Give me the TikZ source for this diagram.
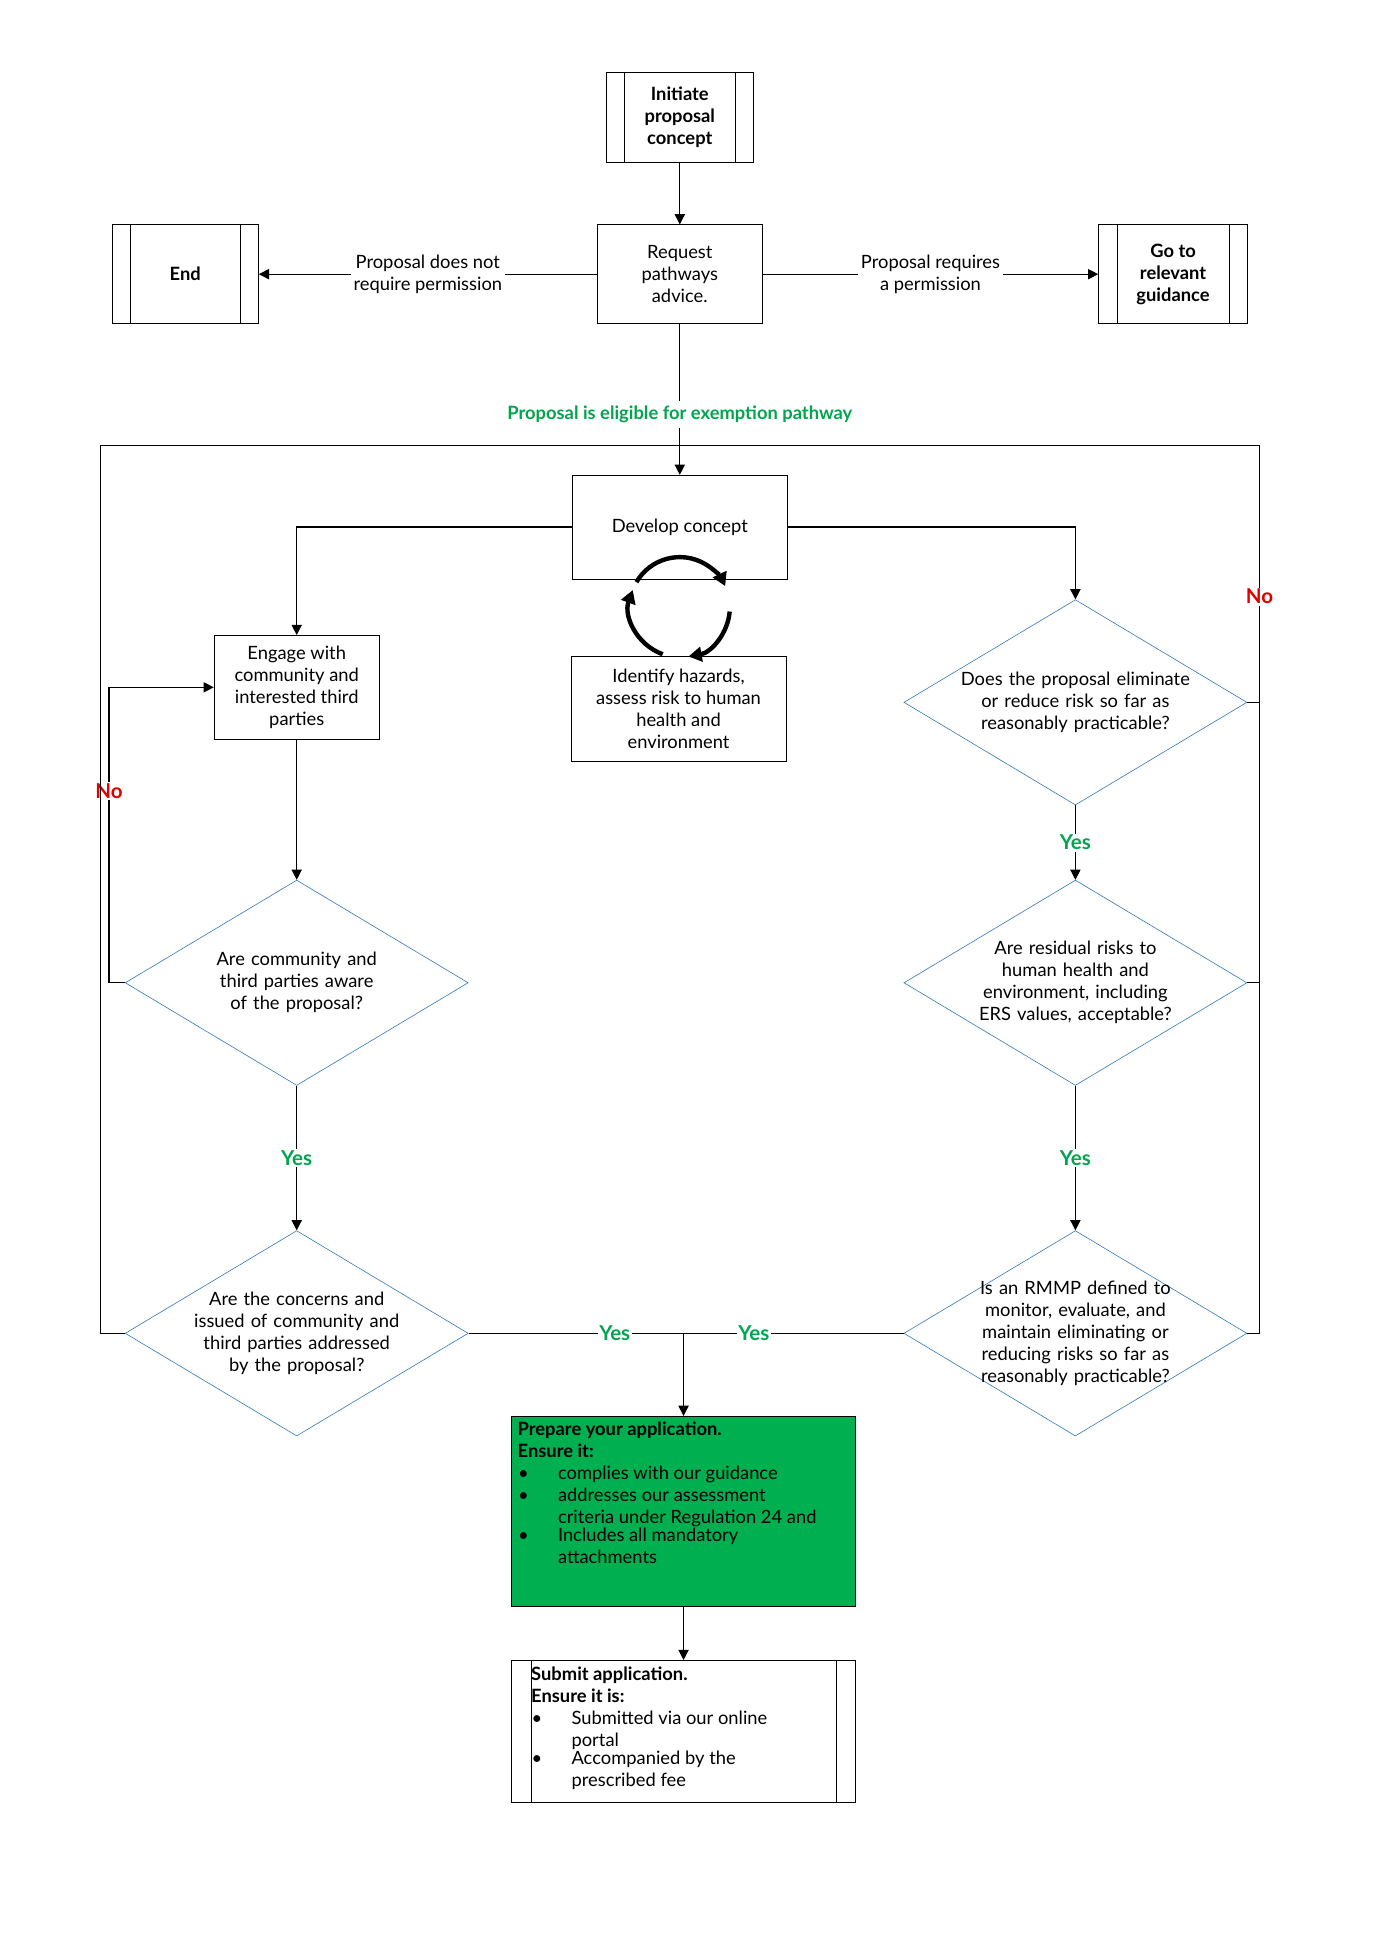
\documentclass[tikz,border=0pt]{standalone}
\usepackage{fontspec}
\setmainfont{Lato}
\usetikzlibrary{shapes.geometric,arrows.meta}
\definecolor{diablue}{HTML}{2E75B6}
\definecolor{okgreen}{HTML}{00A54F}
\definecolor{boxgreen}{HTML}{00B050}
\definecolor{nored}{HTML}{E00000}
\newcommand{\bul}[2]{\par\hangindent=2.2em\hangafter=0\noindent\llap{\textbullet\hspace{1.6em}}\parbox[t]{#1}{\raggedright\hyphenpenalty=10000 #2}\par}
\tikzset{
  box/.style={draw, thin, align=center, inner sep=2pt},
  dia/.style={draw=diablue, diamond, minimum width=8.22cm, minimum height=4.92cm, inner sep=0pt},
  dtext/.style={align=center, text width=5.8cm, execute at begin node={\hyphenpenalty=10000}},
  arr/.style={-{Triangle[length=7pt,width=7pt]}, thick},
  lnk/.style={thick},
  yes/.style={text=okgreen, font=\bfseries\fontsize{14}{16}\selectfont, fill=white, inner sep=1pt},
  no/.style={text=nored, font=\bfseries\fontsize{14}{16}\selectfont, fill=white, inner sep=1pt},
  lbl/.style={fill=white, align=center, inner sep=2pt}
}
\begin{document}
\begin{tikzpicture}[x=0.03cm, y=-0.03cm, font=\fontsize{12.5}{15}\selectfont]
\useasboundingbox (0,0) rectangle (1100,1556);
% top row
\node[box, minimum width=3.54cm, minimum height=2.16cm, font=\bfseries\fontsize{12.5}{15}\selectfont] (init) at (543,94) {Initiate\\proposal\\concept};
\node[box, minimum width=3.96cm, minimum height=2.37cm] (req) at (543,219) {Request\\pathways\\advice.};
\node[box, minimum width=3.51cm, minimum height=2.37cm, font=\bfseries\fontsize{12.5}{15}\selectfont] (end) at (148,219) {End};
\node[box, minimum width=3.57cm, minimum height=2.37cm, font=\bfseries\fontsize{12.5}{15}\selectfont] (go) at (937,219) {Go to\\relevant\\guidance};
\foreach \n in {init,end,go}{
  \draw ([xshift=0.45cm]\n.north west) -- ([xshift=0.45cm]\n.south west);
  \draw ([xshift=-0.45cm]\n.north east) -- ([xshift=-0.45cm]\n.south east);
}
\draw[arr] (init) -- (req);
\draw[arr] (req) -- node[lbl]{Proposal does not\\require permission} (end);
\draw[arr] (req) -- node[lbl]{Proposal requires\\a permission} (go);
% develop loop
\node[box, minimum width=5.16cm, minimum height=2.49cm] (dev) at (543,421) {Develop concept};
\node[box, minimum width=5.16cm, minimum height=2.52cm] (haz) at (542,566) {Identify hazards,\\assess risk to human\\health and\\environment};
\draw[arr] (req) -- node[pos=0.6, text=okgreen, font=\bfseries\fontsize{12.5}{15}\selectfont, fill=white]{Proposal is eligible for exemption pathway} (dev);
\begin{scope}[line width=3pt, -{Triangle[length=9pt,width=10pt]}]
  \draw (543,485) ++(-150:40) arc[start angle=-150, end angle=-25, radius=40];
  \draw (543,485) ++(5:40) arc[start angle=5, end angle=80, radius=40];
  \draw (543,485) ++(110:40) arc[start angle=110, end angle=200, radius=40];
\end{scope}
% left column
\node[box, minimum width=3.96cm, minimum height=2.49cm] (eng) at (237,549) {Engage with\\community and\\interested third\\parties};
\node[dia] (aware) at (237,785) {};
\node[dtext] at (aware) {Are community and third parties aware of the proposal?};
\node[dia] (conc) at (237,1065) {};
\node[dtext] at (conc) {Are the concerns and issued of community and third parties addressed by the proposal?};
\draw[arr] (dev.west) -| (eng.north);
\draw[arr] (eng) -- (aware);
\draw[arr] (aware) -- node[yes, pos=0.5]{Yes} (conc);
\draw[arr] (aware.west) -- (87,785) -- node[no, pos=0.65]{No} (87,549) -- (eng.west);
% right column
\node[dia] (elim) at (859,561) {};
\node[dtext] at (elim) {Does the proposal eliminate or reduce risk so far as reasonably practicable?};
\node[dia] (resid) at (859,785) {};
\node[dtext] at (resid) {Are residual risks to human health and environment, including ERS values, acceptable?};
\node[dia] (rmmp) at (859,1065) {};
\node[dtext] at (rmmp) {Is an RMMP defined to monitor, evaluate, and maintain eliminating or reducing risks so far as reasonably practicable?};
\draw[arr] (dev.east) -| (elim.north);
\draw[arr] (elim) -- node[yes]{Yes} (resid);
\draw[arr] (resid) -- node[yes]{Yes} (rmmp);
% outer loop
\draw[lnk] (conc.west) -- (80,1065) -- (80,356) -- (1006,356) -- node[no, pos=0.17]{No} (1006,1065) -- (rmmp.east);
\draw[lnk] (elim.east) -- (1006,561);
\draw[lnk] (resid.east) -- (1006,785);
% bottom
\coordinate (join) at (546,1065);
\draw[lnk] (conc.east) -- node[yes, pos=0.68]{Yes} (join);
\draw[lnk] (rmmp.west) -- node[yes, pos=0.68]{Yes} (join);
\node[draw, fill=boxgreen, minimum width=8.25cm, minimum height=4.56cm, anchor=north, inner sep=3pt] (prep) at (546,1131) {\begin{minipage}[t][4.3cm]{7.95cm}\textbf{Prepare your application.}\par\textbf{Ensure it:}
\bul{6.3cm}{complies with our guidance}
\bul{6.3cm}{addresses our assessment criteria under Regulation 24 and}
\bul{6.3cm}{Includes all mandatory attachments}\end{minipage}};
\draw[arr] (join) -- (prep);
\node[draw, minimum width=8.25cm, minimum height=3.39cm, anchor=north, inner sep=3pt] (sub) at (546,1326) {\begin{minipage}[t][3.1cm]{7.3cm}\textbf{Submit application.}\par\textbf{Ensure it is:}
\bul{5.6cm}{Submitted via our online portal}
\bul{5.6cm}{Accompanied by the prescribed fee}\end{minipage}};
\draw ([xshift=0.48cm]sub.north west) -- ([xshift=0.48cm]sub.south west);
\draw ([xshift=-0.48cm]sub.north east) -- ([xshift=-0.48cm]sub.south east);
\draw[arr] (prep) -- (sub);
\end{tikzpicture}
\end{document}
